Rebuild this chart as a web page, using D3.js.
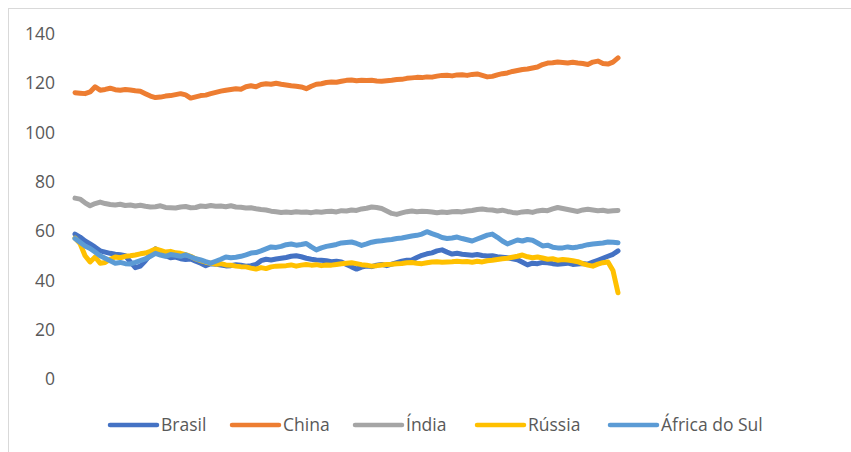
<!DOCTYPE html>
<html>
<head>
<meta charset="utf-8">
<script src="https://cdn.jsdelivr.net/npm/d3@7"></script>
<style>
    body { margin: 0; background: #ffffff; }
    text { font-family: "Open Sans", "Noto Sans", sans-serif; fill: #595959; }
</style>
</head>
<body>
<div id="chart"></div>
<script>
// series names, colours and tick labels
var names = ["Brasil", "China", "Índia", "Rússia", "África do Sul"];
var colors = ["#4472C4", "#ED7D31", "#A5A5A5", "#FFC000", "#5B9BD5"];
var yTicks = [0, 20, 40, 60, 80, 100, 120, 140];

// values, one per step
var brasil = [58.8, 57.6, 56, 54.8, 53.5, 52, 51.5, 51, 50.6, 50.4, 50, 47.5, 45.2, 45.8, 48, 50.5, 52.8, 51.5, 50, 49.2,
    49.5, 48.8, 48.5, 48.7, 47.8, 47, 46, 46.8, 46.6, 46.2, 45.9, 46, 46.4, 46.2, 45.8, 46, 46.5, 48, 48.6, 48.3,
    48.7, 49, 49.3, 49.8, 50, 49.6, 49, 48.6, 48.3, 48.2, 48, 47.6, 47.8, 47.5, 46.5, 45.5, 44.6, 45.4, 45.8, 45.6,
    46.2, 46.5, 46, 46.6, 47.2, 47.8, 48.2, 48.3, 49.3, 50.2, 50.8, 51.2, 52, 52.4, 51.5, 50.7, 51, 50.6, 50.4, 50.2,
    50.5, 50.1, 49.9, 50, 49.6, 49.4, 49.2, 48.8, 48.4, 47.4, 46.3, 47, 46.8, 47.3, 47.2, 46.8, 46.6, 46.8, 47, 46.5,
    46.7, 46.9, 46.6, 47.4, 48.2, 49, 49.8, 50.6, 52];
var china = [116.2, 116, 115.8, 116.5, 118.6, 117.2, 117.5, 118, 117.4, 117.2, 117.5, 117.3, 117, 116.8, 115.8, 114.8, 114.2, 114.4, 114.8, 115,
    115.4, 115.8, 115.3, 114, 114.5, 115, 115.2, 115.8, 116.3, 116.8, 117.2, 117.5, 117.8, 117.6, 118.6, 119, 118.6, 119.5, 119.8, 119.6,
    120, 119.6, 119.3, 119, 118.8, 118.5, 117.8, 118.8, 119.6, 119.8, 120.3, 120.5, 120.4, 120.8, 121.2, 121.3, 121, 121.2, 121.1, 121.2,
    120.9, 120.8, 121, 121.2, 121.5, 121.6, 122, 122.2, 122.4, 122.3, 122.6, 122.5, 122.9, 123.2, 123.3, 123, 123.4, 123.5, 123.2, 123.6,
    123.8, 123.2, 122.6, 122.8, 123.4, 123.9, 124.2, 124.8, 125.2, 125.6, 125.8, 126.2, 126.6, 127.6, 128.2, 128.3, 128.6, 128.4, 128.2, 128.5,
    128.2, 128, 127.6, 128.6, 129, 128, 127.8, 128.6, 130.3];
var india = [73.4, 73, 71.5, 70.3, 71.2, 71.8, 71.2, 70.8, 70.6, 70.9, 70.4, 70.6, 70.2, 70.5, 70.1, 69.8, 69.9, 70.3, 69.6, 69.5,
    69.4, 69.8, 70, 69.5, 69.6, 70.2, 70, 70.4, 70.1, 70.2, 69.9, 70.3, 69.8, 69.7, 69.4, 69.5, 69.1, 68.8, 68.6, 68.1,
    67.9, 67.6, 67.8, 67.6, 67.9, 67.7, 67.8, 67.5, 67.9, 67.7, 68, 68.1, 67.8, 68.3, 68.2, 68.6, 68.4, 69, 69.3, 69.8,
    69.6, 69.2, 68.2, 67.2, 66.8, 67.4, 67.9, 68.2, 67.9, 68.1, 68, 67.8, 67.5, 67.8, 67.6, 67.9, 68, 67.8, 68.2, 68.4,
    68.8, 69, 68.7, 68.6, 68.2, 68.5, 68, 67.6, 67.4, 67.8, 68, 67.6, 68.2, 68.5, 68.3, 69, 69.6, 69.2, 68.8, 68.4,
    68, 68.6, 68.9, 68.6, 68.3, 68.5, 68.1, 68.3, 68.4];
var russia = [57.2, 55, 50, 47.5, 49.5, 47, 47.3, 48.6, 49.5, 49.2, 49.8, 50, 50.3, 50.8, 51.1, 51.8, 52.8, 52.2, 51.5, 51.8,
    51.2, 51, 50.5, 49.8, 48.7, 48, 47.4, 47, 46.6, 46.8, 46.3, 46.2, 45.8, 45.6, 45.5, 45, 44.6, 45.2, 44.8, 45.5,
    45.8, 45.9, 46, 46.3, 45.8, 46.2, 46.5, 46.2, 46.4, 46, 46.3, 46.2, 46.5, 46.8, 47, 47.2, 46.8, 46.4, 46.2, 45.8,
    46, 46.3, 46.5, 46.6, 46.8, 46.9, 47.2, 47.3, 47, 46.8, 47.2, 47.5, 47.6, 47.4, 47.5, 47.6, 47.8, 47.6, 47.7, 47.4,
    47.8, 47.5, 48, 48.2, 48.5, 48.8, 49, 49.4, 49.8, 50.3, 49.6, 49.2, 49.5, 49.1, 48.6, 48.8, 48.2, 48.5, 48.3, 48,
    47.6, 46.8, 46.2, 45.8, 46.6, 47.2, 47.5, 44, 35];
var africaSul = [57, 55.5, 54, 53, 51.5, 50, 49, 48, 47, 47.3, 46.8, 46.7, 47.3, 48, 48.7, 49.8, 51, 50.3, 49.8, 50.5,
    50.2, 49.8, 50.4, 49.6, 48.8, 48.3, 47.6, 47, 47.8, 48.6, 49.5, 49.2, 49.4, 49.8, 50.4, 51.1, 51.3, 52, 52.8, 53.6,
    53.4, 53.8, 54.5, 54.8, 54.3, 54.6, 55, 53.6, 52.4, 53.2, 53.8, 54.2, 54.6, 55.2, 55.4, 55.6, 55, 54.2, 54.8, 55.5,
    55.9, 56.1, 56.4, 56.6, 57, 57.2, 57.6, 58, 58.3, 58.8, 59.8, 59, 58.3, 57.4, 57, 57.2, 57.6, 57, 56.5, 56,
    56.8, 57.6, 58.4, 58.8, 57.5, 56, 54.8, 55.6, 56.4, 56, 56.6, 56.3, 55.2, 54, 54.3, 53.5, 53.2, 53.2, 53.6, 53.3,
    53.6, 54, 54.5, 54.8, 55, 55.2, 55.6, 55.5, 55.3];

var allSeries = [brasil, china, india, russia, africaSul];

var width = 851, height = 452;

var svg = d3.select("#chart")
    .append("svg")
    .attr("width", width)
    .attr("height", height);

// chart area frame (only left and top edges are inside the window)
svg.append("rect")
    .attr("x", 8.5)
    .attr("y", 8.5)
    .attr("width", 900)
    .attr("height", 500)
    .attr("fill", "none")
    .attr("stroke", "#D9D9D9");

var xScale = d3.scaleLinear()
    .domain([0, brasil.length - 1])
    .range([75, 618]);

var yScale = d3.scaleLinear()
    .domain([0, 140])
    .range([379, 34]);

// y axis, labels only
var yAxis = d3.axisLeft(yScale)
    .tickValues(yTicks)
    .tickSize(0)
    .tickPadding(0);

var yg = svg.append("g")
    .attr("transform", "translate(55,0)")
    .call(yAxis);
yg.select(".domain").remove();
yg.selectAll("text")
    .attr("font-size", "17.5px")
    .attr("fill", "#595959")
    .attr("font-family", "'Open Sans', sans-serif");

var line = d3.line()
    .x(function(d, i) { return xScale(i); })
    .y(function(d) { return yScale(d); });

allSeries.forEach(function(s, k) {
    svg.append("path")
        .attr("d", line(s))
        .attr("fill", "none")
        .attr("stroke", colors[k])
        .attr("stroke-width", 5)
        .attr("stroke-linejoin", "round")
        .attr("stroke-linecap", "round");
});

// legend at the bottom
var legendX = [110, 232, 355, 477, 610];
var legend = svg.append("g");
names.forEach(function(n, k) {
    legend.append("line")
        .attr("x1", legendX[k])
        .attr("x2", legendX[k] + 47)
        .attr("y1", 425)
        .attr("y2", 425)
        .attr("stroke", colors[k])
        .attr("stroke-width", 4.5)
        .attr("stroke-linecap", "round");
    legend.append("text")
        .attr("x", legendX[k] + 51)
        .attr("y", 425)
        .attr("dy", "0.35em")
        .attr("font-size", "17.5px")
        .text(n);
});
</script>
</body>
</html>
